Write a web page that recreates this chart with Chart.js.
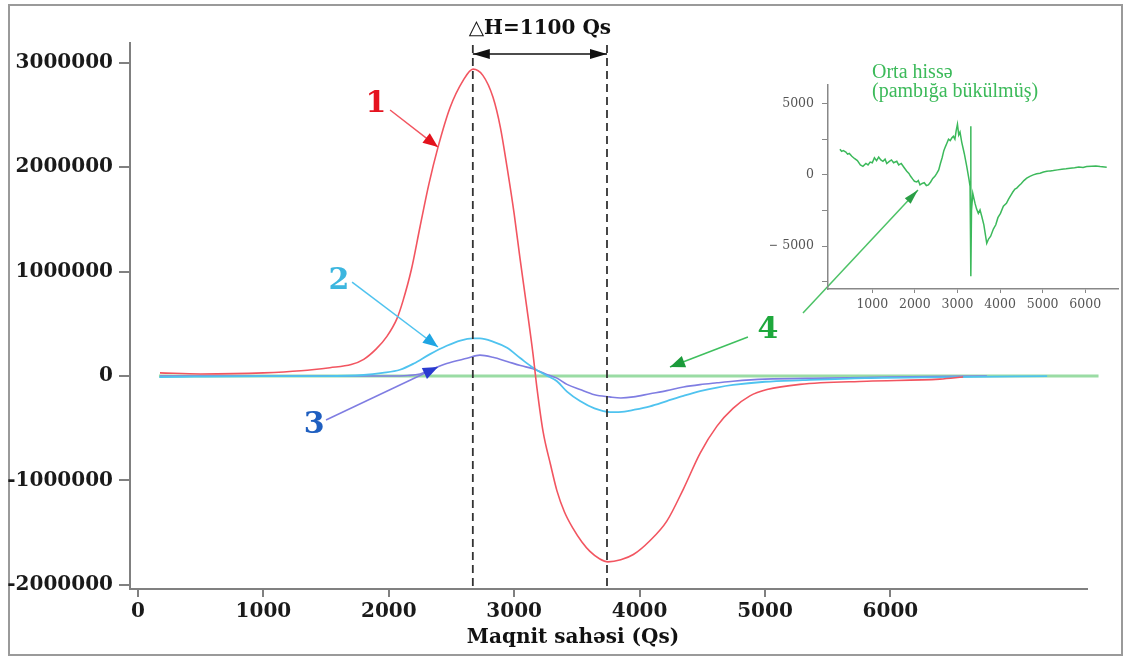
<!DOCTYPE html>
<html><head><meta charset="utf-8">
<script src="https://cdn.jsdelivr.net/npm/chart.js@4.4.0/dist/chart.umd.min.js"></script>
<style>
html,body{margin:0;padding:0;background:#fff;}
#wrap{position:relative;width:1127px;height:657px;overflow:hidden;}
#main{position:absolute;left:0;top:0;width:1127px;height:657px;}
#inset{position:absolute;left:770px;top:55px;width:357px;height:265px;}
</style></head><body>
<div id="wrap"><canvas id="main" width="1127" height="657"></canvas><canvas id="inset" width="357" height="265"></canvas></div>
<script>
// ---------- main chart data (field in Qs, signal in a.u.) ----------
const xTickValues = [0,1000,2000,3000,4000,5000,6000];
const yTickValues = [-2000000,-1000000,0,1000000,2000000,3000000];

const curve1Field = [175,500,1000,1300,1530,1700,1800,1900,1985,2065,2113,2180,2249,2320,2392,2488,2592,2672,2750,2831,2890,2943,3000,3046,3100,3150,3182,3230,3290,3341,3400,3469,3540,3604,3680,3748,3850,3950,4080,4217,4350,4482,4617,4745,4880,5016,5279,5813,6395,6580];
const curve1Value = [30000,20000,30000,50000,80000,110000,160000,260000,380000,550000,720000,1020000,1430000,1840000,2190000,2570000,2830000,2940000,2880000,2670000,2380000,2000000,1550000,1130000,660000,210000,-120000,-530000,-850000,-1100000,-1300000,-1460000,-1590000,-1680000,-1750000,-1780000,-1760000,-1710000,-1580000,-1390000,-1080000,-740000,-480000,-310000,-190000,-130000,-80000,-50000,-30000,-10000];

const curve2Field = [170,1000,1500,1800,1950,2089,2200,2329,2462,2570,2672,2727,2830,2943,3050,3150,3250,3341,3421,3525,3640,3764,3880,3950,4083,4217,4350,4482,4617,4745,5000,5300,5800,6500,7250];
const curve2Value = [-10000,0,0,10000,30000,60000,120000,210000,290000,340000,360000,360000,330000,270000,170000,80000,10000,-50000,-150000,-240000,-310000,-345000,-340000,-325000,-290000,-240000,-190000,-145000,-110000,-85000,-55000,-40000,-20000,-10000,0];

const curve3Field = [175,1000,1600,2000,2150,2249,2350,2462,2624,2727,2830,2943,3050,3150,3250,3341,3421,3525,3640,3760,3850,3950,4083,4217,4350,4482,4617,4745,5000,5500,6000,6770];
const curve3Value = [0,0,0,0,5000,20000,70000,120000,170000,200000,180000,140000,100000,70000,20000,-20000,-80000,-130000,-180000,-200000,-210000,-200000,-170000,-140000,-105000,-82000,-65000,-50000,-30000,-20000,-10000,0];

const curve4Field = [167,2000,4000,6000,7660];
const curve4Value = [0,0,0,0,0];

// annotations (data coordinates)
const peakField = 2670, troughField = 3740;
const deltaHText = '△H=1100 Qs';
const deltaHArrowValue = 3084000;
const curveNames = ['1','2','3','4'];
const curveNameField = [1898,1603,1404,5024];
const curveNameValue = [2605000,910000,-469000,441000];
const arrowFromField = [2010,1707,1499,4864];
const arrowFromValue = [2548000,900000,-421000,374000];
const arrowToField = [2392,2392,2392,4242];
const arrowToValue = [2193000,278000,86000,86000];
const linkFrom = [5303,603000], linkTo = [6220,1782000];
const xTitle = 'Maqnit sahəsi (Qs)';
const xTitleField = 3469;

// ---------- inset data ----------
const insetTitle = ['Orta hissə','(pambığa bükülmüş)'];
const insetXTicks = [1000,2000,3000,4000,5000,6000];
const insetYTicks = [-7500,-5000,-2500,0,2500,5000];
const insetField = [240,280,320,380,420,460,520,580,650,720,780,850,900,950,1000,1050,1100,1150,1200,1250,1300,1340,1400,1450,1500,1575,1620,1680,1750,1810,1860,1900,1950,1990,2044,2080,2120,2170,2220,2270,2317,2370,2420,2470,2514,2560,2600,2640,2680,2720,2749,2790,2830,2870,2904,2940,2970,3000,3030,3060,3100,3160,3218,3270,3296,3310,3318,3330,3360,3390,3413,3450,3490,3530,3570,3620,3688,3730,3780,3843,3900,3950,4010,4078,4150,4200,4260,4300,4350,4392,4450,4500,4560,4627,4700,4780,4860,4939,5020,5100,5180,5251,5350,5450,5550,5643,5750,5850,5950,6035,6150,6250,6350,6505];
const insetValue = [1800,1650,1700,1600,1450,1500,1300,1150,1000,700,600,800,700,900,850,1200,1000,1250,1050,950,1100,800,950,1050,850,950,700,800,500,250,100,-100,-300,-450,-500,-400,-700,-600,-550,-750,-700,-500,-250,-100,100,350,800,1200,1700,2000,2200,2500,2400,2600,2700,2500,3100,3550,2800,3000,2300,1500,600,-300,-800,3400,-7100,-2500,-1300,-1700,-2000,-2400,-2700,-2450,-2900,-3500,-4800,-4500,-4300,-3800,-3500,-3000,-2700,-2200,-2000,-1700,-1400,-1200,-1000,-930,-750,-600,-400,-230,-100,0,80,120,200,250,280,300,350,400,430,470,500,550,520,580,600,620,580,540];

const colRed='#f25560', colCyan='#4fc3ef', colPurple='#7f7de2', colGreen='#9adca4';
const pts=(f,v)=>f.map((x,i)=>({x:x,y:v[i]}));
const tickFont={family:'DejaVu Serif',size:20,weight:'bold'};

function arrowHead(ctx,x1,y1,x2,y2,len,half,color){
  const a=Math.atan2(y2-y1,x2-x1);
  ctx.save();ctx.fillStyle=color;ctx.beginPath();
  ctx.moveTo(x2,y2);
  ctx.lineTo(x2-len*Math.cos(a)+half*Math.sin(a),y2-len*Math.sin(a)-half*Math.cos(a));
  ctx.lineTo(x2-len*Math.cos(a)-half*Math.sin(a),y2-len*Math.sin(a)+half*Math.cos(a));
  ctx.closePath();ctx.fill();ctx.restore();
}

const mainDeco={
  id:'mainDeco',
  beforeDraw(chart){
    const c=chart.ctx;c.save();c.fillStyle='#fff';c.fillRect(0,0,chart.width,chart.height);
    c.strokeStyle='#9a9a9a';c.lineWidth=2;c.strokeRect(9,5,1113,650);c.restore();
  },
  afterDatasetsDraw(chart){
    const c=chart.ctx,xs=chart.scales.x,ys=chart.scales.y,ca=chart.chartArea;
    c.save();
    const xp=xs.getPixelForValue(peakField),xt=xs.getPixelForValue(troughField);
    c.strokeStyle='#333';c.lineWidth=1.8;c.setLineDash([8,5]);
    [xp,xt].forEach(x=>{c.beginPath();c.moveTo(x,45);c.lineTo(x,ca.bottom);c.stroke();});
    c.setLineDash([]);
    const ya=ys.getPixelForValue(deltaHArrowValue);
    c.strokeStyle='#111';c.lineWidth=1.6;c.beginPath();c.moveTo(xp,ya);c.lineTo(xt,ya);c.stroke();
    arrowHead(c,xt,ya,xp,ya,17,5,'#111');arrowHead(c,xp,ya,xt,ya,17,5,'#111');
    c.fillStyle='#111';c.font='bold 20px "DejaVu Serif"';c.textAlign='center';c.textBaseline='middle';
    c.fillText(deltaHText,(xp+xt)/2,29);
    const lineCols=[colRed,colCyan,colPurple,'#3fbf5e'];
    const headCols=['#e3121c','#1fa5e3','#2a3bd0','#1b9a3a'];
    const nameCols=['#e5131f','#3cb6df','#1f5fc0','#1ea83c'];
    for(let i=0;i<4;i++){
      const x1=xs.getPixelForValue(arrowFromField[i]),y1=ys.getPixelForValue(arrowFromValue[i]);
      const x2=xs.getPixelForValue(arrowToField[i]),y2=ys.getPixelForValue(arrowToValue[i]);
      c.strokeStyle=lineCols[i];c.lineWidth=1.5;c.beginPath();c.moveTo(x1,y1);c.lineTo(x2,y2);c.stroke();
      arrowHead(c,x1,y1,x2,y2,15,6,headCols[i]);
      c.fillStyle=nameCols[i];c.font='bold 30px "DejaVu Serif"';c.textAlign='center';c.textBaseline='middle';
      c.fillText(curveNames[i],xs.getPixelForValue(curveNameField[i]),ys.getPixelForValue(curveNameValue[i]));
    }
    const lx1=xs.getPixelForValue(linkFrom[0]),ly1=ys.getPixelForValue(linkFrom[1]);
    const lx2=xs.getPixelForValue(linkTo[0]),ly2=ys.getPixelForValue(linkTo[1]);
    c.strokeStyle='#4cc266';c.lineWidth=1.5;c.beginPath();c.moveTo(lx1,ly1);c.lineTo(lx2,ly2);c.stroke();
    arrowHead(c,lx1,ly1,lx2,ly2,15,4,'#2a9e45');
    c.fillStyle='#111';c.font='bold 20px "DejaVu Serif"';c.textAlign='center';c.textBaseline='middle';
    c.fillText(xTitle,xs.getPixelForValue(xTitleField),638);
    c.restore();
  }
};

new Chart(document.getElementById('main'),{
  type:'line',
  data:{datasets:[
    {data:pts(curve4Field,curve4Value),borderColor:colGreen,borderWidth:3,clip:false,order:4},
    {data:pts(curve1Field,curve1Value),borderColor:colRed,borderWidth:1.6,order:1},
    {data:pts(curve2Field,curve2Value),borderColor:colCyan,borderWidth:1.8,order:2},
    {data:pts(curve3Field,curve3Value),borderColor:colPurple,borderWidth:1.6,order:3}
  ]},
  options:{
    responsive:false,animation:false,
    layout:{padding:{left:0,top:43,right:40,bottom:0}},
    plugins:{legend:{display:false},tooltip:{enabled:false},title:{display:false}},
    elements:{point:{radius:0},line:{cubicInterpolationMode:'monotone',fill:false}},
    scales:{
      x:{type:'linear',min:-64,max:7568,
        afterBuildTicks:s=>{s.ticks=xTickValues.map(v=>({value:v}));},
        afterFit:s=>{s.height=68;},
        grid:{drawOnChartArea:false,drawTicks:true,tickLength:8,color:'#808080',lineWidth:2},
        border:{display:true,color:'#808080',width:2},
        ticks:{font:tickFont,color:'#1a1a1a',padding:3,maxRotation:0,autoSkip:false,callback:v=>String(v)}},
      y:{type:'linear',min:-2040000,max:3190000,
        afterBuildTicks:s=>{s.ticks=yTickValues.map(v=>({value:v}));},
        afterFit:s=>{s.width=130;},
        grid:{drawOnChartArea:false,drawTicks:true,tickLength:11,color:'#808080',lineWidth:2},
        border:{display:true,color:'#808080',width:2},
        ticks:{font:tickFont,color:'#1a1a1a',padding:6,autoSkip:false,callback:v=>String(v)}}
    }
  },
  plugins:[mainDeco]
});

const insetDeco={
  id:'insetDeco',
  afterDraw(chart){
    const c=chart.ctx;c.save();c.fillStyle='#3cba5a';c.font='20px "Liberation Serif"';
    c.textAlign='left';c.textBaseline='middle';
    c.fillText(insetTitle[0],102,18);c.fillText(insetTitle[1],102,37);c.restore();
  }
};
const insetFont={family:'DejaVu Serif',size:12.5};
new Chart(document.getElementById('inset'),{
  type:'line',
  data:{datasets:[{data:pts(insetField,insetValue),borderColor:'#3cb95b',borderWidth:1.5,tension:0}]},
  options:{
    responsive:false,animation:false,
    layout:{padding:{left:0,top:30,right:9,bottom:0}},
    plugins:{legend:{display:false},tooltip:{enabled:false}},
    elements:{point:{radius:0}},
    scales:{
      x:{type:'linear',min:-40,max:6770,
        afterBuildTicks:s=>{s.ticks=insetXTicks.map(v=>({value:v}));},
        afterFit:s=>{s.height=31;},
        grid:{drawOnChartArea:false,tickLength:4,color:'#888'},
        border:{color:'#888',width:1.5},
        ticks:{font:insetFont,color:'#555',padding:4,maxRotation:0,autoSkip:false,callback:v=>String(v)}},
      y:{type:'linear',min:-8000,max:6300,
        afterBuildTicks:s=>{s.ticks=insetYTicks.map(v=>({value:v}));},
        afterFit:s=>{s.width=58;},
        grid:{drawOnChartArea:false,tickLength:6,color:'#888'},
        border:{color:'#888',width:1.5},
        ticks:{font:insetFont,color:'#555',padding:8,autoSkip:false,
          callback:v=>(v===5000?'5000':v===0?'0':v===-5000?'− 5000':'')}}
    }
  },
  plugins:[insetDeco]
});
</script>
</body></html>
